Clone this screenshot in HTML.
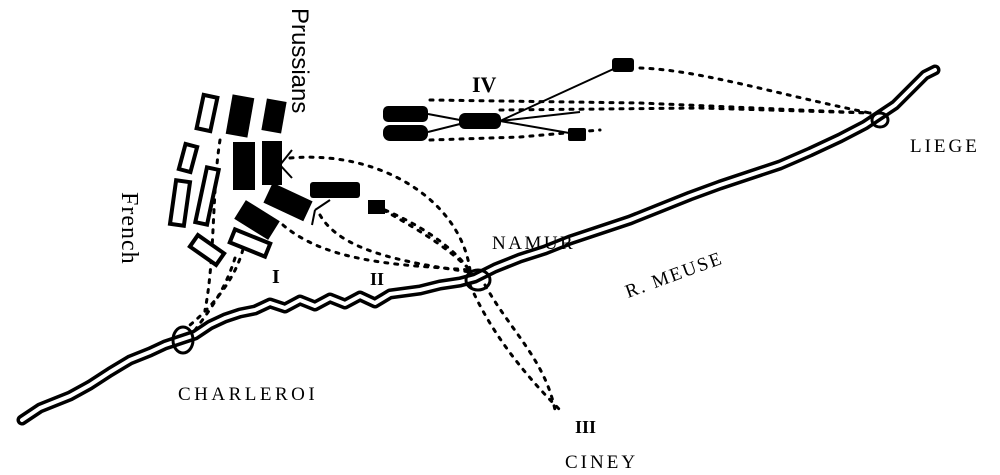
<!DOCTYPE html>
<html><head><meta charset="utf-8"><style>
html,body{margin:0;padding:0;background:#fff;width:1000px;height:475px;overflow:hidden}
svg{display:block}
text{font-family:"Liberation Serif",serif;fill:#000}
</style></head><body>
<svg width="1000" height="475" viewBox="0 0 1000 475" xmlns="http://www.w3.org/2000/svg">
<defs>
<path id="r" d="M22,420 L40,408 L55,402 L70,396 L90,385 L110,372 L130,360 L150,352 L165,345 L180,340 L195,335 L210,325 L225,318 L240,313 L255,310 L270,303 L285,308 L300,300 L315,306 L330,298 L345,304 L360,296 L375,303 L390,294 L405,292 L420,290 L440,285 L460,282 L475,278 L495,268 L520,258 L545,250 L570,240 L600,230 L630,220 L660,208 L690,196 L720,185 L750,175 L780,165 L810,152 L840,138 L865,125 L880,115 L895,105 L905,95 L915,85 L925,75 L935,70"/>
</defs>
<g fill="none" stroke-linejoin="round" stroke-linecap="round">
<use href="#r" stroke="#000" stroke-width="11"/>
<use href="#r" stroke="#fff" stroke-width="4"/>
<ellipse cx="183" cy="340" rx="10" ry="13" stroke="#000" stroke-width="3"/>
<ellipse cx="478" cy="280" rx="12" ry="10" stroke="#000" stroke-width="3"/>
<ellipse cx="880" cy="120" rx="8" ry="7" stroke="#000" stroke-width="3"/>
</g>
<g fill="none" stroke="#000" stroke-width="3" stroke-dasharray="3,7" stroke-linecap="round">
<path d="M290,158 C380,150 460,200 470,270"/>
<path d="M375,205 C400,220 440,240 470,270"/>
<path d="M320,215 C340,250 400,262 470,272"/>
<path d="M283,225 C330,265 410,265 470,270"/>
<path d="M385,210 C420,225 450,245 468,268"/>
<path d="M220,140 C212,190 215,260 205,310"/>
<path d="M245,240 C240,270 220,300 190,325"/>
<path d="M235,258 C225,290 210,310 195,330"/>
<path d="M470,285 C490,330 520,370 560,410"/>
<path d="M485,285 C510,330 545,360 555,410"/>
<path d="M430,100 L640,103 L870,113"/>
<path d="M430,140 L520,137 L600,130"/>
<path d="M640,68 C700,70 780,95 870,113"/>
<path d="M500,110 L700,108 L870,113"/>
</g>
<g fill="#fff" stroke="#000" stroke-width="4">
<rect x="-7" y="-17" width="14" height="34" transform="translate(207,113) rotate(12)"/>
<rect x="-6" y="-13" width="12" height="26" transform="translate(188,158) rotate(15)"/>
<rect x="-7" y="-22" width="14" height="44" transform="translate(180,203) rotate(8)"/>
<rect x="-6" y="-28" width="12" height="56" transform="translate(207,196) rotate(12)"/>
<rect x="-16" y="-7" width="32" height="14" transform="translate(207,250) rotate(35)"/>
<rect x="-19" y="-7" width="38" height="14" transform="translate(250,243) rotate(22)"/>
</g>
<g fill="#000">
<rect x="-11" y="-20" width="22" height="40" transform="translate(240,116) rotate(10)"/>
<rect x="-10" y="-16" width="20" height="32" transform="translate(274,116) rotate(10)"/>
<rect x="-11" y="-24" width="22" height="48" transform="translate(244,166)"/>
<rect x="-10" y="-22" width="20" height="44" transform="translate(272,163)"/>
<rect x="-20" y="-11" width="40" height="22" transform="translate(257,220) rotate(32)"/>
<rect x="-22" y="-11" width="44" height="22" transform="translate(288,202) rotate(25)"/>
<rect x="310" y="182" width="50" height="16" rx="3"/>
<rect x="368" y="200" width="17" height="14"/>
<rect x="383" y="106" width="45" height="16" rx="5"/>
<rect x="383" y="125" width="45" height="16" rx="7"/>
<rect x="459" y="113" width="42" height="16" rx="6"/>
<rect x="612" y="58" width="22" height="14" rx="3"/>
<rect x="568" y="128" width="18" height="13" rx="2"/>
</g>
<g stroke="#000" stroke-width="2" fill="none">
<path d="M428,114 L460,120 M428,132 L460,124 M500,121 L620,66 M500,121 L575,134 M500,121 L580,112"/>
<path d="M280,165 L292,150 M280,165 L292,178 M315,210 L330,200 M315,210 L312,225"/>
</g>
<g font-family="Liberation Serif" font-weight="bold">
<text x="472" y="92" font-size="22">IV</text>
<text x="272" y="283" font-size="20">I</text>
<text x="370" y="285" font-size="18">II</text>
<text x="575" y="433" font-size="18">III</text>
</g>
<text font-size="24" style="font-family:'Liberation Sans',sans-serif" transform="translate(292,8) rotate(90)">Prussians</text>
<text font-size="24" transform="translate(122,192) rotate(90)" letter-spacing="1">French</text>
<text x="492" y="249" font-size="19" letter-spacing="2.5">NAMUR</text>
<text font-size="19" letter-spacing="2" transform="translate(628,298) rotate(-20)">R. MEUSE</text>
<text x="910" y="152" font-size="19" letter-spacing="3">LIEGE</text>
<text x="178" y="400" font-size="19" letter-spacing="3.5">CHARLEROI</text>
<text x="565" y="468" font-size="19" letter-spacing="3">CINEY</text>
</svg>
</body></html>
